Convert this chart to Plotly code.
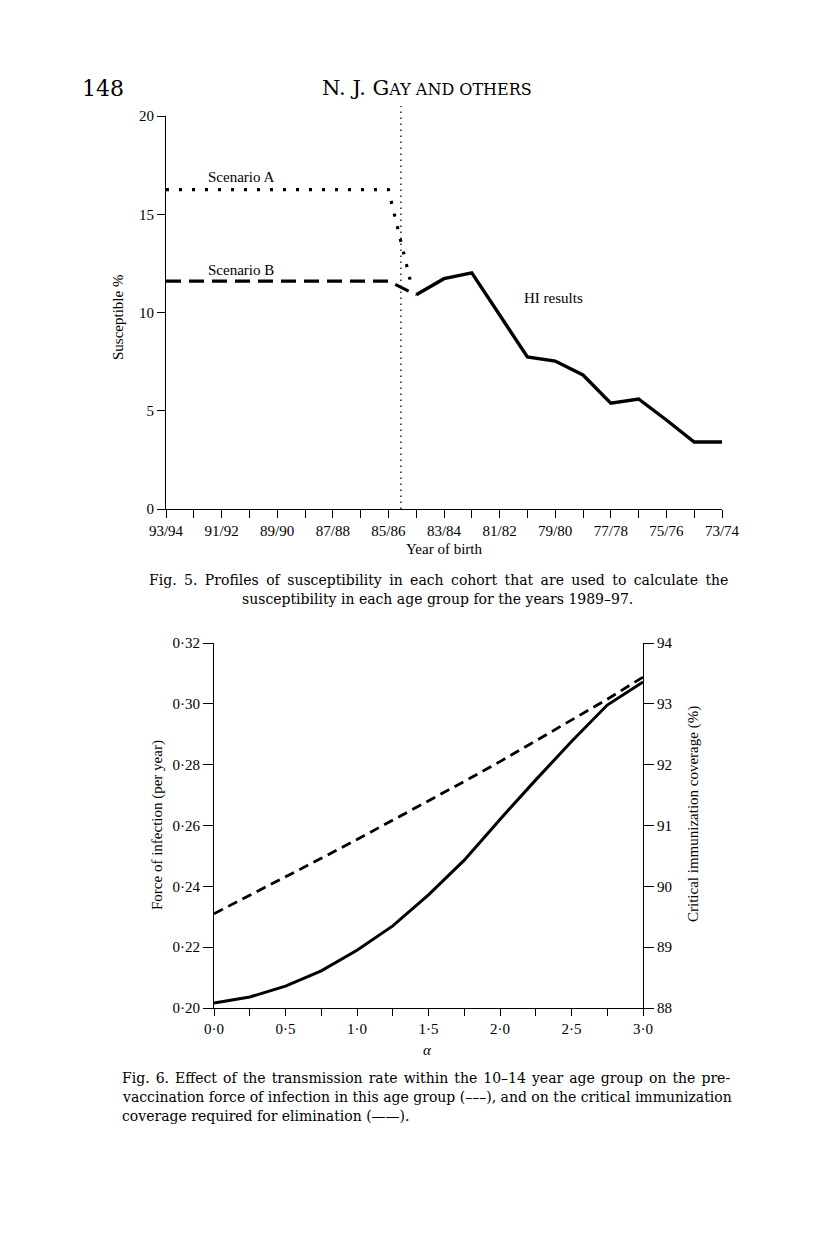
import plotly.graph_objects as go

# ---------------- data: Fig. 5 ----------------
cohort_labels = ["93/94", "91/92", "89/90", "87/88", "85/86", "83/84",
                 "81/82", "79/80", "77/78", "75/76", "73/74"]
cohort_index = list(range(21))          # 93/94 = 0 ... 73/74 = 20 (one step per birth year)
scen_a_x = [0, 8, 8.8]
scen_a_y = [16.25, 16.25, 11.55]
scen_b_x = [0, 8, 9]
scen_b_y = [11.6, 11.6, 10.9]
hi_x = [9, 10, 11, 12, 13, 14, 15, 16, 17, 18, 19, 20]
hi_y = [10.9, 11.72, 12.02, 9.87, 7.74, 7.53, 6.82, 5.39, 5.6, 4.53, 3.41, 3.41]
boundary_x = 8.45
susc_ticks = [0, 5, 10, 15, 20]

# ---------------- data: Fig. 6 ----------------
alpha = [0, 0.25, 0.5, 0.75, 1.0, 1.25, 1.5, 1.75, 2.0, 2.25, 2.5, 2.75, 3.0]
force = [0.2310, 0.2370, 0.2430, 0.2492, 0.2554, 0.2617, 0.2680, 0.2745,
         0.2810, 0.2878, 0.2946, 0.3015, 0.3088]
coverage = [88.08, 88.18, 88.36, 88.61, 88.95, 89.35, 89.86, 90.43,
            91.10, 91.75, 92.38, 92.98, 93.36]
alpha_tick_text = ["0·0", "", "0·5", "", "1·0", "", "1·5", "", "2·0", "", "2·5", "", "3·0"]
force_ticks = [0.20, 0.22, 0.24, 0.26, 0.28, 0.30, 0.32]
force_tick_text = ["0·20", "0·22", "0·24", "0·26", "0·28", "0·30", "0·32"]
cov_ticks = [88, 89, 90, 91, 92, 93, 94]

# page is 816x1253; the figure sits inside the default 8px body margin
OFF = 8
W, H = 816 - 2 * OFF, 1253 - 2 * OFF
def fx(x):
    return (x - OFF) / W
def fy(y):
    return 1 - (y - OFF) / H

SERIF = "Liberation Serif"
BOOK = "DejaVu Serif"
BLACK = "black"

fig = go.Figure()

# Fig. 5 traces
fig.add_trace(go.Scatter(x=scen_a_x, y=scen_a_y, mode="lines",
                         line=dict(color=BLACK, width=3.2, dash="3px,10px"),
                         xaxis="x", yaxis="y", showlegend=False))
fig.add_trace(go.Scatter(x=scen_b_x, y=scen_b_y, mode="lines",
                         line=dict(color=BLACK, width=3.2, dash="15px,8px"),
                         xaxis="x", yaxis="y", showlegend=False))
fig.add_trace(go.Scatter(x=hi_x, y=hi_y, mode="lines",
                         line=dict(color=BLACK, width=3.4),
                         xaxis="x", yaxis="y", showlegend=False))

# Fig. 6 traces
fig.add_trace(go.Scatter(x=alpha, y=force, mode="lines",
                         line=dict(color=BLACK, width=2.8, dash="10px,6px"),
                         xaxis="x2", yaxis="y2", showlegend=False))
fig.add_trace(go.Scatter(x=alpha, y=coverage, mode="lines",
                         line=dict(color=BLACK, width=3.0),
                         xaxis="x2", yaxis="y3", showlegend=False))

tick_font = dict(family=SERIF, size=15, color=BLACK)
axis_common = dict(showgrid=False, zeroline=False, showline=True, linecolor=BLACK,
                   linewidth=1, ticks="outside", tickcolor=BLACK, tickwidth=1,
                   tickfont=tick_font, fixedrange=True, automargin=False)

top_x0, top_x1, top_y0, top_y1 = 166, 722, 116, 509
bot_x0, bot_x1, bot_y0, bot_y1 = 214, 643, 643, 1008

fig.update_layout(
    template="none",
    width=W, height=H, autosize=False,
    margin=dict(l=0, r=0, t=0, b=0, pad=0, autoexpand=False),
    paper_bgcolor="white", plot_bgcolor="white",
    showlegend=False,
    xaxis=dict(domain=[fx(top_x0), fx(top_x1)], range=[0, 20], anchor="y",
               tickvals=cohort_index,
               ticktext=[cohort_labels[i // 2] if i % 2 == 0 else "" for i in cohort_index],
               ticklen=8, **axis_common),
    yaxis=dict(domain=[fy(top_y1), fy(top_y0)], range=[0, 20], anchor="x",
               tickvals=susc_ticks, ticklen=8, **axis_common),
    xaxis2=dict(domain=[fx(bot_x0), fx(bot_x1)], range=[0, 3], anchor="y2",
                tickvals=alpha, ticktext=alpha_tick_text, ticklen=7, **axis_common),
    yaxis2=dict(domain=[fy(bot_y1), fy(bot_y0)], range=[0.20, 0.32], anchor="x2",
                tickvals=force_ticks, ticktext=force_tick_text, ticklen=10, **axis_common),
    yaxis3=dict(domain=[fy(bot_y1), fy(bot_y0)], range=[88, 94], anchor="x2",
                overlaying="y2", side="right", tickvals=cov_ticks, ticklen=10,
                **axis_common),
)

# cohort boundary (dotted vertical line)
fig.add_shape(type="line", xref="x", yref="y domain",
              x0=boundary_x, x1=boundary_x, y0=0, y1=(top_y1 - 106) / (top_y1 - top_y0),
              line=dict(color=BLACK, width=1.3, dash="1.5px,4.5px"))

def ann(text, x, y, size=15, family=SERIF, angle=0, xanchor="center", italic=False):
    fig.add_annotation(text=text, x=fx(x), y=fy(y), xref="paper", yref="paper",
                       showarrow=False, textangle=angle, xanchor=xanchor, yanchor="middle",
                       font=dict(family=family, size=size, color=BLACK,
                                 style="italic" if italic else "normal"))

# header
ann("148", 80, 88, size=22, family=BOOK, xanchor="left")
ann("N. J. G<span style='font-size:16px'>AY AND OTHERS</span>", 427, 88, size=21, family=BOOK)

# Fig. 5 labels
ann("Scenario A", 241, 177)
ann("Scenario B", 241, 270)
ann("HI results", 553, 298)
ann("Susceptible %", 118, 318, angle=-90)
ann("Year of birth", 444, 549)
ann("<span style='word-spacing:3px'>Fig. 5. Profiles of susceptibility in each cohort that are used to calculate the</span>",
    438, 580, size=14, family=BOOK)
ann("susceptibility in each age group for the years 1989–97.", 437, 599, size=14, family=BOOK)

# Fig. 6 labels
ann("Force of infection (per year)", 157, 825, angle=-90)
ann("Critical immunization coverage (%)", 693, 814, angle=-90)
ann("α", 427, 1050, italic=True)
ann("<span style='word-spacing:1.6px'>Fig. 6. Effect of the transmission rate within the 10–14 year age group on the pre-</span>",
    120, 1078, size=14, family=BOOK, xanchor="left")
ann("vaccination force of infection in this age group (–––), and on the critical immunization",
    120, 1097, size=14, family=BOOK, xanchor="left")
ann("coverage required for elimination (——).",
    120, 1116, size=14, family=BOOK, xanchor="left")

fig.write_html("out.html")
